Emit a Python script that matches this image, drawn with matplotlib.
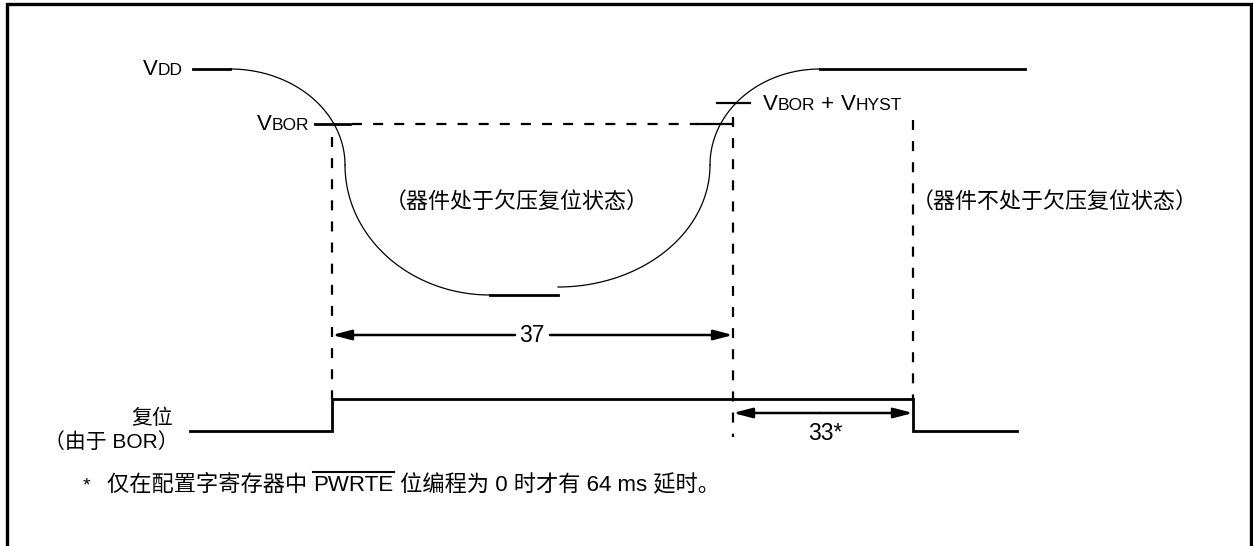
import numpy as np
import matplotlib
matplotlib.use("Agg")
import matplotlib.pyplot as plt

# key levels / times of the diagram (pixel units, y grows downwards)
vdd_high = 69
vbor_level = 124
vhyst_level = 103
vdd_low = 295
bend_y = 165

t_drop_start = 230
t_bor_cross = 332
t_bottom_start = 490
t_bottom_end = 558
t_hyst_cross = 733
t_rise_end = 820
t_reset_end = 913

reset_low = 431
reset_high = 399

label_37 = "37"
label_33 = "33*"
state_in = "（器件处于欠压复位状态）"
state_out = "（器件不处于欠压复位状态）"
note_pre = "仅在配置字寄存器中 "
note_bar = "PWRTE"
note_post = " 位编程为 0 时才有 64 ms 延时。"

LAT = ["Liberation Sans", "Noto Sans CJK SC"]
CJK = ["Noto Sans CJK SC", "Liberation Sans"]

fig = plt.figure(figsize=(12.53, 5.46), dpi=100)
ax = fig.add_axes([0, 0, 1, 1])
ax.set_xlim(0, 1253)
ax.set_ylim(546, 0)
ax.axis("off")
renderer = fig.canvas.get_renderer()


def quarter(cx, cy, rx, ry, a0, a1):
    a = np.linspace(np.radians(a0), np.radians(a1), 80)
    return cx + rx * np.cos(a), cy - ry * np.sin(a)


def runs(x, y, parts):
    # draw pieces of text one after another, baseline aligned
    for s, size in parts:
        t = ax.text(x, y, s, fontsize=size, family=LAT, va="baseline", ha="left")
        x += t.get_window_extent(renderer).width
    return x


# frame (open at the bottom)
ax.plot([7, 7, 1251, 1251], [546, 4, 4, 546], color="black", lw=2.4,
        solid_joinstyle="miter")

thin = dict(color="black", lw=0.9)
thick = dict(color="black", lw=2.0)

# VDD curve
ax.plot([193, t_drop_start], [vdd_high, vdd_high], **thick)
x, y = quarter(t_drop_start, bend_y, 115, bend_y - vdd_high, 90, 0)
ax.plot(x, y, **thin)
x, y = quarter(t_bottom_start, bend_y, t_bottom_start - 345, vdd_low - bend_y, 180, 270)
ax.plot(x, y, **thin)
ax.plot([t_bottom_start, t_bottom_end], [vdd_low, vdd_low], **thick)
x, y = quarter(t_bottom_end, bend_y, 152, vdd_low - bend_y - 8, 270, 360)
ax.plot(x, y, **thin)
x, y = quarter(t_rise_end, bend_y, t_rise_end - 710, bend_y - vdd_high, 180, 90)
ax.plot(x, y, **thin)
ax.plot([t_rise_end, 1025], [vdd_high, vdd_high], **thick)

# threshold ticks and dashed guides
dash = dict(color="black", lw=1.6, dashes=(4.5, 5))
ax.plot([315, 350], [vbor_level, vbor_level], **thick)
ax.plot([352, 697], [vbor_level, vbor_level], **dash)
ax.plot([697, t_hyst_cross], [vbor_level, vbor_level], color="black", lw=1.6)
ax.plot([717, 750], [vhyst_level, vhyst_level], color="black", lw=1.6)

ax.plot([t_bor_cross, t_bor_cross], [137, reset_high], **dash)
ax.plot([t_hyst_cross, t_hyst_cross], [117, 437], **dash)
ax.plot([t_reset_end, t_reset_end], [120, reset_high], **dash)

# reset signal
ax.plot([190, t_bor_cross, t_bor_cross, t_reset_end, t_reset_end, 1017],
        [reset_low, reset_low, reset_high, reset_high, reset_low, reset_low],
        color="black", lw=2.0, solid_joinstyle="miter")

# dimension arrows
arr = dict(arrowstyle="-|>,head_length=1.15,head_width=0.3", color="black",
           lw=1.8, shrinkA=0, shrinkB=0)
ax.annotate("", xy=(t_bor_cross, 335), xytext=(515, 335), arrowprops=arr)
ax.annotate("", xy=(t_hyst_cross, 335), xytext=(550, 335), arrowprops=arr)
ax.text(532, 336, label_37, fontsize=16.5, family=LAT, ha="center", va="center")

ax.annotate("", xy=(t_hyst_cross, 413), xytext=(820, 413), arrowprops=arr)
ax.annotate("", xy=(t_reset_end, 413), xytext=(820, 413), arrowprops=arr)
ax.text(825, 433, label_33, fontsize=16.5, family=LAT, ha="center", va="center")

# labels
runs(143, 75, [("V", 16), ("DD", 12.5)])
runs(257, 130, [("V", 16), ("BOR", 12.5)])
runs(763, 110, [("V", 16), ("BOR", 12.5), (" + ", 16), ("V", 16), ("HYST", 12.5)])

ax.text(385, 202, state_in, fontsize=15.8, family=CJK, ha="left", va="center")
ax.text(912, 202, state_out, fontsize=15.8, family=CJK, ha="left", va="center")

ax.text(173, 418, "复位", fontsize=15, family=CJK, ha="right", va="center")
ax.text(44, 442, "（由于 BOR）", fontsize=15, family=LAT, ha="left", va="center")

# footnote with overlined PWRTE
ax.text(83, 490, "*", fontsize=14, family=LAT, ha="left", va="baseline")
x0 = 107
t = ax.text(x0, 491, note_pre, fontsize=16, family=LAT, va="baseline")
x0 += t.get_window_extent(renderer).width
t = ax.text(x0, 491, note_bar, fontsize=16, family=LAT, va="baseline")
bb = t.get_window_extent(renderer)
ax.plot([x0, x0 + bb.width], [472, 472], color="black", lw=1.5)
x0 += bb.width
ax.text(x0, 491, note_post, fontsize=16, family=LAT, va="baseline")

fig.savefig("out.png", dpi=100)
